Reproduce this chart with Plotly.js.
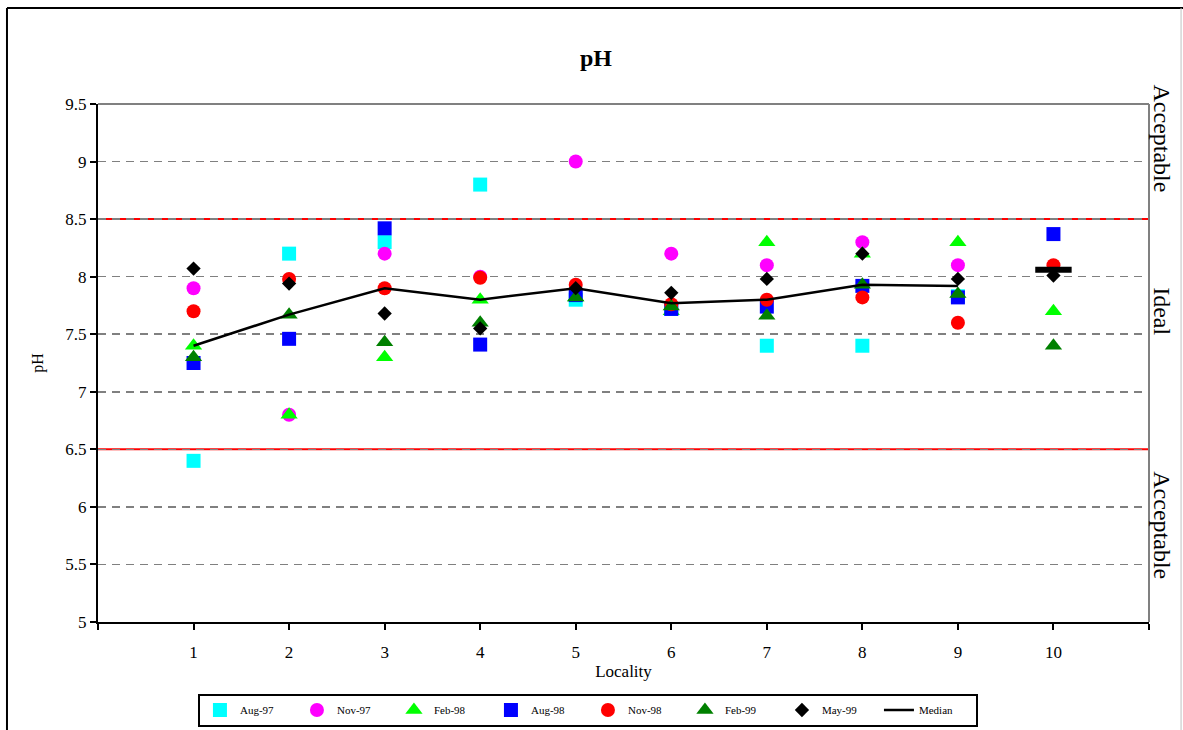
<!DOCTYPE html>
<html>
<head>
<meta charset="utf-8">
<script src="https://cdn.plot.ly/plotly-3.0.1.min.js"></script>
<style>html,body{margin:0;padding:0;background:#fff;}#chart{width:1183px;height:730px;}</style>
</head>
<body>
<div id="chart"></div>
<script>
// ---- data ----
const localities = [1, 2, 3, 4, 5, 6, 7, 8, 9, 10];
const aug97 = [6.4, 8.2, 8.3, 8.8, 7.8, 7.72, 7.4, 7.4, 7.83, null];
const nov97 = [7.9, 6.8, 8.2, 8.0, 9.0, 8.2, 8.1, 8.3, 8.1, null];
const feb98 = [7.4, 6.8, 7.3, 7.8, 7.82, 7.7, 8.3, 8.2, 8.3, 7.7];
const aug98 = [7.25, 7.46, 8.42, 7.41, 7.84, 7.72, 7.74, 7.92, 7.82, 8.37];
const nov98 = [7.7, 7.98, 7.9, 7.99, 7.93, 7.76, 7.8, 7.82, 7.6, 8.1];
const feb99 = [7.3, 7.67, 7.43, 7.6, 7.82, 7.74, 7.66, 7.93, 7.85, 7.4];
const may99 = [8.07, 7.94, 7.68, 7.55, 7.9, 7.86, 7.98, 8.2, 7.98, 8.01];
const median = [7.4, 7.67, 7.9, 7.8, 7.9, 7.77, 7.8, 7.93, 7.92, 8.06];
const limits = [6.5, 8.5];
const yTicks = [5, 5.5, 6, 6.5, 7, 7.5, 8, 8.5, 9, 9.5];
const xTickVals = [0, 1, 2, 3, 4, 5, 6, 7, 8, 9, 10, 11];
const xTickText = ['', '1', '2', '3', '4', '5', '6', '7', '8', '9', '10', ''];
const zoneLabels = ['Acceptable', 'Ideal', 'Acceptable'];
const zoneY = [9.2, 7.7, 5.84];

const serif = 'Liberation Serif, Times New Roman, serif';

function pts(name, y, color, symbol, size) {
  return {
    type: 'scatter', mode: 'markers', name: name, x: localities, y: y,
    marker: {color: color, symbol: symbol, size: size, line: {width: 0}}
  };
}

const traces = [
  pts('Aug-97', aug97, '#00FFFF', 'square', 14),
  pts('Nov-97', nov97, '#FF00FF', 'circle', 14),
  pts('Feb-98', feb98, '#00FF00', 'triangle-up', 15),
  pts('Aug-98', aug98, '#0000FF', 'square', 14),
  pts('Nov-98', nov98, '#FF0000', 'circle', 14),
  pts('Feb-99', feb99, '#008000', 'triangle-up', 15),
  pts('May-99', may99, '#000000', 'diamond', 11),
  {
    type: 'scatter', mode: 'lines', name: 'Median',
    x: localities.slice(0, 9), y: median.slice(0, 9),
    line: {color: '#000000', width: 2.5}
  },
  {
    type: 'scatter', mode: 'markers', name: 'Median', showlegend: false,
    x: localities.slice(9), y: median.slice(9),
    marker: {symbol: 'line-ew', size: 26, color: '#000000', line: {width: 6, color: '#000000'}}
  }
];

const shapes = [];
limits.forEach(v => shapes.push({
  type: 'line', xref: 'paper', x0: 0, x1: 1, yref: 'y', y0: v, y1: v,
  line: {color: '#FF0000', width: 2}, layer: 'below'
}));
// plot area top and right border (gray)
shapes.push({type: 'line', xref: 'paper', x0: 0, x1: 1, yref: 'paper', y0: 1, y1: 1,
  line: {color: '#808080', width: 2}, layer: 'below'});
shapes.push({type: 'line', xref: 'paper', x0: 1, x1: 1, yref: 'paper', y0: 0, y1: 1,
  line: {color: '#808080', width: 2}, layer: 'below'});
// outer chart frame
shapes.push({type: 'line', xref: 'paper', x0: -0.0866, x1: -0.0866, yref: 'paper', y0: -0.3, y1: 1.1853,
  line: {color: '#000000', width: 2}});
shapes.push({type: 'line', xref: 'paper', x0: -0.0866, x1: 1.04, yref: 'paper', y0: 1.1853, y1: 1.1853,
  line: {color: '#000000', width: 2}});
shapes.push({type: 'line', xref: 'paper', x0: 1.0305, x1: 1.0305, yref: 'paper', y0: -0.3, y1: 1.1853,
  line: {color: '#C0C0C0', width: 1}});

const annotations = [
  {text: '<b>pH</b>', xref: 'paper', yref: 'paper', x: 0.4738, y: 1.088, showarrow: false,
   xanchor: 'center', yanchor: 'middle', font: {family: serif, size: 24, color: '#000'}}
];
zoneLabels.forEach((t, i) => annotations.push({
  text: t, xref: 'paper', yref: 'y', x: 1.0124, y: zoneY[i], textangle: 90, showarrow: false,
  xanchor: 'center', yanchor: 'middle', font: {family: serif, size: 24, color: '#000'}
}));

const layout = {
  width: 1183, height: 730,
  margin: {l: 98, r: 34, t: 104, b: 108, autoexpand: false},
  paper_bgcolor: '#FFFFFF', plot_bgcolor: '#FFFFFF',
  font: {family: serif, color: '#000'},
  showlegend: true,
  legend: {
    orientation: 'h', xref: 'container', yref: 'container',
    x: 0.497, xanchor: 'center', y: 0.05, yanchor: 'top',
    bordercolor: '#000', borderwidth: 2, font: {family: serif, size: 11},
    entrywidth: 52, itemsizing: 'trace', traceorder: 'normal', tracegroupgap: 0
  },
  xaxis: {
    range: [0, 11], tickmode: 'array', tickvals: xTickVals, ticktext: xTickText,
    showgrid: false, zeroline: false, showline: true, linecolor: '#000', linewidth: 2,
    ticks: 'outside', ticklen: 6, tickwidth: 2, tickcolor: '#000',
    tickfont: {family: serif, size: 17}, automargin: false, ticklabelstandoff: 8,
    title: {text: 'Locality', font: {family: serif, size: 17}, standoff: 4}
  },
  yaxis: {
    range: [5, 9.5], tickmode: 'array', tickvals: yTicks,
    showgrid: true, gridcolor: '#808080', gridwidth: 1.5, griddash: '8px,6px',
    zeroline: false, showline: true, linecolor: '#000', linewidth: 2,
    ticks: 'outside', ticklen: 6, tickwidth: 2, tickcolor: '#000',
    tickfont: {family: serif, size: 17}, automargin: false,
    title: {text: 'pH', font: {family: serif, size: 16}, standoff: 18}
  },
  shapes: shapes,
  annotations: annotations
};

Plotly.newPlot('chart', traces, layout, {displayModeBar: false, staticPlot: true});
</script>
</body>
</html>
